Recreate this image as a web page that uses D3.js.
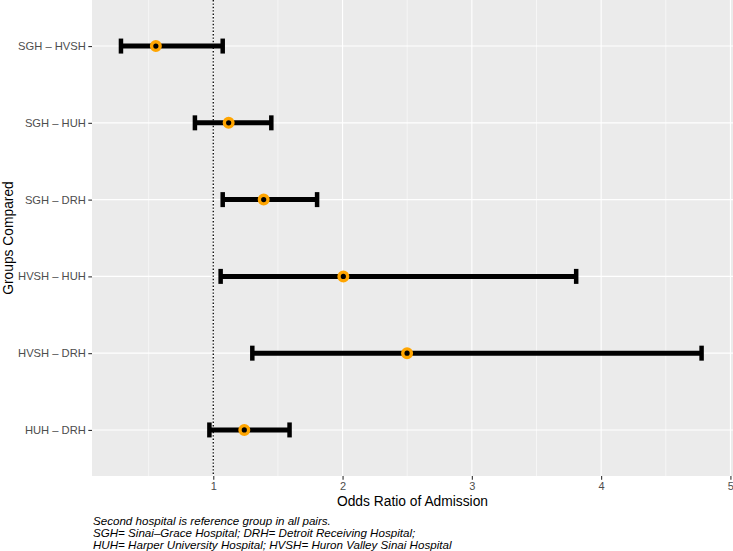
<!DOCTYPE html>
<html>
<head>
<meta charset="utf-8">
<script src="https://cdn.jsdelivr.net/npm/d3@7"></script>
<style>
  body { margin: 0; background: #fff; }
  svg { display: block; font-family: "Liberation Sans", Arial, sans-serif; }
</style>
</head>
<body>
<div id="chart"></div>
<script>
// comparisons, top to bottom
const groups = ["SGH – HVSH", "SGH – HUH", "SGH – DRH", "HVSH – HUH", "HVSH – DRH", "HUH – DRH"];
// odds ratio estimates and 95% CI bounds
const oddsRatio = [0.556, 1.119, 1.390, 2.006, 2.499, 1.240];
const lowerCI   = [0.286, 0.858, 1.073, 1.057, 1.302, 0.970];
const upperCI   = [1.073, 1.449, 1.803, 3.807, 4.777, 1.590];
const xTicks = [1, 2, 3, 4, 5];
const xMinor = [0.5, 1.5, 2.5, 3.5, 4.5];
const refLine = 1;
const captionLines = [
    "Second hospital is reference group in all pairs.",
    "SGH= Sinai–Grace Hospital; DRH= Detroit Receiving Hospital;",
    "HUH= Harper University Hospital; HVSH= Huron Valley Sinai Hospital"
];

const data = groups.map((g, i) => ({ group: g, or: oddsRatio[i], lo: lowerCI[i], hi: upperCI[i] }));

const svgWidth = 733, svgHeight = 551;
// panel box
const panel = { left: 92, top: 0, right: 733, bottom: 476 };

const svg = d3.select('#chart').append('svg')
    .attr('width', svgWidth)
    .attr('height', svgHeight);

const x = d3.scaleLinear().domain([0.062, 5.02]).range([panel.left, panel.right]);
const y = d3.scalePoint().domain(groups).range([panel.top, panel.bottom]).padding(0.6);

// panel background
svg.append('rect')
    .attr('x', panel.left).attr('y', panel.top)
    .attr('width', panel.right - panel.left)
    .attr('height', panel.bottom - panel.top)
    .attr('fill', '#EBEBEB');

// grid lines
const grid = svg.append('g');
grid.selectAll('.minor').data(xMinor).join('line')
    .attr('x1', d => x(d)).attr('x2', d => x(d))
    .attr('y1', panel.top).attr('y2', panel.bottom)
    .attr('stroke', '#fff').attr('stroke-width', 0.55);
grid.selectAll('.major-x').data(xTicks).join('line')
    .attr('x1', d => x(d)).attr('x2', d => x(d))
    .attr('y1', panel.top).attr('y2', panel.bottom)
    .attr('stroke', '#fff').attr('stroke-width', 1.1);
grid.selectAll('.major-y').data(groups).join('line')
    .attr('x1', panel.left).attr('x2', panel.right)
    .attr('y1', d => y(d)).attr('y2', d => y(d))
    .attr('stroke', '#fff').attr('stroke-width', 1.1);

// dotted reference line at OR = 1
svg.append('line')
    .attr('x1', x(refLine)).attr('x2', x(refLine))
    .attr('y1', panel.top).attr('y2', panel.bottom)
    .attr('stroke', '#000').attr('stroke-width', 1.3)
    .attr('stroke-dasharray', '1.4 2');

// error bars
const capH = 7.5;
const bars = svg.append('g');
bars.selectAll('.bar').data(data).join('line')
    .attr('x1', d => x(d.lo)).attr('x2', d => x(d.hi))
    .attr('y1', d => y(d.group)).attr('y2', d => y(d.group))
    .attr('stroke', '#000').attr('stroke-width', 5);
bars.selectAll('.cap-lo').data(data).join('line')
    .attr('x1', d => x(d.lo)).attr('x2', d => x(d.lo))
    .attr('y1', d => y(d.group) - capH).attr('y2', d => y(d.group) + capH)
    .attr('stroke', '#000').attr('stroke-width', 4.5);
bars.selectAll('.cap-hi').data(data).join('line')
    .attr('x1', d => x(d.hi)).attr('x2', d => x(d.hi))
    .attr('y1', d => y(d.group) - capH).attr('y2', d => y(d.group) + capH)
    .attr('stroke', '#000').attr('stroke-width', 4.5);

// points
svg.append('g').selectAll('circle').data(data).join('circle')
    .attr('cx', d => x(d.or)).attr('cy', d => y(d.group))
    .attr('r', 4.3)
    .attr('fill', '#000')
    .attr('stroke', '#FFA500').attr('stroke-width', 3.4);

// x axis
const xAxis = svg.append('g')
    .attr('transform', `translate(0, ${panel.bottom})`)
    .call(d3.axisBottom(x).tickValues(xTicks).tickSize(3.7).tickPadding(2.5).tickFormat(d3.format('d')));
xAxis.select('.domain').remove();
xAxis.selectAll('line').attr('stroke', '#333').attr('stroke-width', 1.1);
xAxis.selectAll('text').attr('fill', '#4D4D4D').style('font-size', '11px');

// y axis
const yAxis = svg.append('g')
    .attr('transform', `translate(${panel.left}, 0)`)
    .call(d3.axisLeft(y).tickSize(3.7).tickPadding(2.5));
yAxis.select('.domain').remove();
yAxis.selectAll('line').attr('stroke', '#333').attr('stroke-width', 1.1);
yAxis.selectAll('text').attr('fill', '#4D4D4D').style('font-size', '11.2px');

// axis titles
svg.append('text')
    .attr('x', (panel.left + panel.right) / 2).attr('y', 506)
    .attr('text-anchor', 'middle')
    .style('font-size', '13.8px')
    .text('Odds Ratio of Admission');
svg.append('text')
    .attr('transform', `translate(13, ${(panel.top + panel.bottom) / 2}) rotate(-90)`)
    .attr('text-anchor', 'middle')
    .style('font-size', '13.8px')
    .text('Groups Compared');

// caption
svg.append('g').selectAll('text').data(captionLines).join('text')
    .attr('x', 93).attr('y', (d, i) => 524.5 + i * 12)
    .style('font-size', '11.6px')
    .style('font-style', 'italic')
    .text(d => d);
</script>
</body>
</html>
